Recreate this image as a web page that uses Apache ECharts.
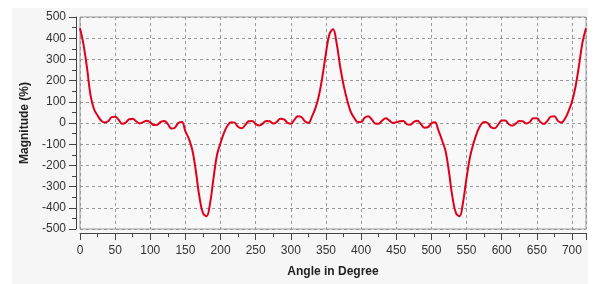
<!DOCTYPE html>
<html>
<head>
<meta charset="utf-8">
<script src="https://cdn.jsdelivr.net/npm/echarts@6/dist/echarts.min.js"></script>
<style>
html,body{margin:0;padding:0;background:#ffffff;}
#chart{width:596px;height:284px;}
</style>
</head>
<body>
<div id="chart"></div>
<script>
// Angle in degrees (x) and magnitude in % (y)
const angles = [
  0,5,10,15,20,25,30,35,40,45,50,55,60,65,70,75,80,85,90,95,100,105,110,115,120,125,130,135,140,145,150,155,160,165,170,175,
  180,185,190,195,200,205,210,215,220,225,230,235,240,245,250,255,260,265,270,275,280,285,290,295,300,305,310,315,320,325,330,335,340,345,350,355,
  360,365,370,375,380,385,390,395,400,405,410,415,420,425,430,435,440,445,450,455,460,465,470,475,480,485,490,495,500,505,510,515,520,525,530,535,
  540,545,550,555,560,565,570,575,580,585,590,595,600,605,610,615,620,625,630,635,640,645,650,655,660,665,670,675,680,685,690,695,700,705,710,715,720
];
const magnitude = [
  447,370,260,130,65,35,12,2,8,28,30,15,-4,2,18,20,8,-2,4,11,3,-10,-8,5,10,-5,-26,-22,0,5,-40,-75,-130,-230,-350,-425,
  -440,-380,-260,-150,-95,-45,-12,4,2,-18,-25,-10,8,10,-5,-12,-3,10,8,-2,5,20,18,2,-4,15,32,28,8,0,30,70,130,220,330,420,
  442,380,270,180,110,55,25,5,5,25,32,18,-2,-3,12,22,12,0,3,8,10,-5,-8,5,11,-5,-22,-20,-2,3,-35,-80,-130,-230,-350,-425,
  -440,-375,-260,-160,-95,-45,-10,5,0,-20,-25,-8,12,12,-5,-13,-3,10,8,-2,5,22,22,5,-5,10,30,32,10,2,20,55,100,170,270,380,447
];
const xTicks = [0,50,100,150,200,250,300,350,400,450,500,550,600,650,700];
const yTicks = [-500,-400,-300,-200,-100,0,100,200,300,400,500];
const xName = 'Angle in Degree';
const yName = 'Magnitude (%)';

const points = angles.map((a, i) => [a, magnitude[i]]);
const tickFont = '"Liberation Sans Narrow", "Arial Narrow", "Liberation Sans", Arial, sans-serif';
const nameFont = '"Liberation Sans", Arial, sans-serif';

const chart = echarts.init(document.getElementById('chart'), null, {renderer: 'canvas'});
chart.setOption({
  animation: false,
  backgroundColor: '#ffffff',
  graphic: [{
    type: 'rect', z: -10, silent: true,
    shape: {x: 12, y: 8, width: 576, height: 276},
    style: {fill: '#f6f6f6'}
  }],
  grid: {
    left: 80, top: 17, width: 506, height: 212,
    show: true, borderColor: '#9a9a9a', borderWidth: 1, backgroundColor: '#f8f8f8'
  },
  xAxis: {
    type: 'value', min: 0, max: 720, interval: 50,
    offset: 4,
    name: xName, nameLocation: 'middle', nameGap: 33,
    nameTextStyle: {fontFamily: nameFont, fontWeight: 'bold', fontSize: 12, color: '#222'},
    axisLine: {show: true, onZero: false, lineStyle: {color: '#444', width: 1}},
    axisTick: {show: true, length: 7, lineStyle: {color: '#444'}},
    minorTick: {show: true, splitNumber: 2, length: 4, lineStyle: {color: '#444'}},
    axisLabel: {
      margin: 12, fontFamily: tickFont, fontSize: 12, color: '#333',
      customValues: xTicks,
      formatter: v => (xTicks.indexOf(v) >= 0 ? String(v) : '')
    },
    splitLine: {show: true, lineStyle: {color: '#999', type: [3, 3], width: 1}}
  },
  yAxis: {
    type: 'value', min: -500, max: 500, interval: 100,
    offset: 4,
    name: yName, nameLocation: 'middle', nameGap: 42, nameRotate: 90,
    nameTextStyle: {fontFamily: nameFont, fontWeight: 'bold', fontSize: 12, color: '#222'},
    axisLine: {show: true, onZero: false, lineStyle: {color: '#444', width: 1}},
    axisTick: {show: true, length: 7, lineStyle: {color: '#444'}},
    minorTick: {show: true, splitNumber: 2, length: 4, lineStyle: {color: '#444'}},
    axisLabel: {margin: 10, fontFamily: tickFont, fontSize: 12, color: '#333',
      formatter: v => (yTicks.indexOf(v) >= 0 ? String(v) : '')},
    splitLine: {show: true, lineStyle: {color: '#999', type: [3, 3], width: 1}}
  },
  series: [{
    type: 'line',
    data: points,
    smooth: 0.4,
    showSymbol: false,
    clip: true,
    lineStyle: {color: '#e0001b', width: 2}
  }]
});
</script>
</body>
</html>
